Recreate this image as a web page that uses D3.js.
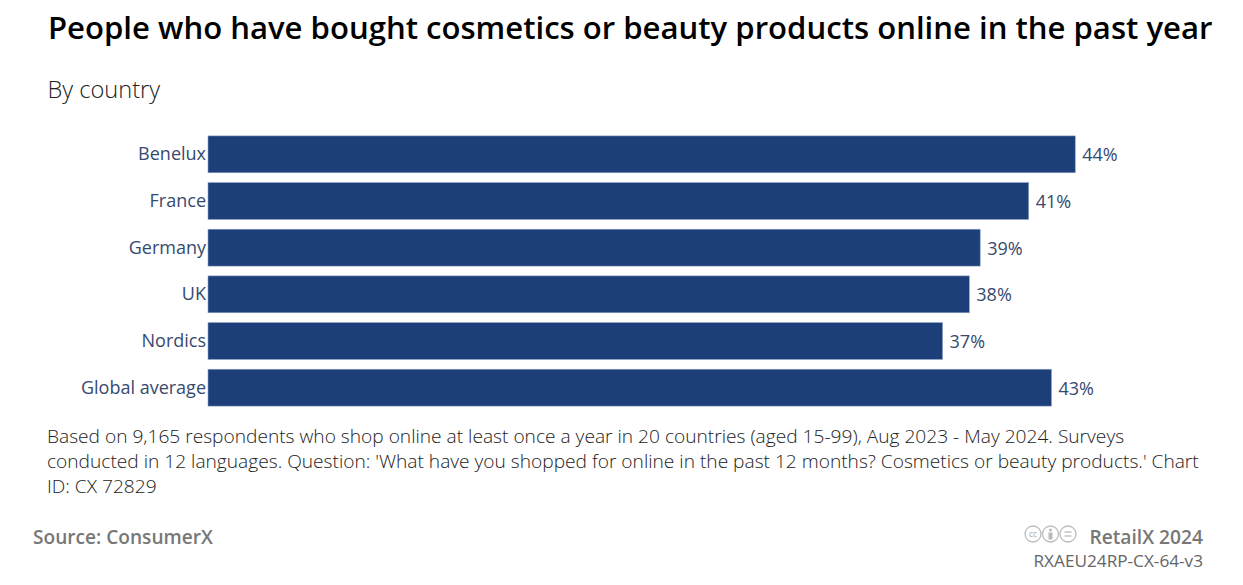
<!DOCTYPE html>
<html>
<head>
<meta charset="utf-8">
<script src="https://cdn.jsdelivr.net/npm/d3@7"></script>
<style>
  html, body { margin: 0; padding: 0; background: #fff; }
  text { font-family: "Open Sans", sans-serif; }
</style>
</head>
<body>
<div id="chart"></div>
<script>
const categories = ['Benelux', 'France', 'Germany', 'UK', 'Nordics', 'Global average']
const shares = [43.8, 41.45, 39.0, 38.45, 37.1, 42.6]
const noteLines = [
  'Based on 9,165 respondents who shop online at least once a year in 20 countries (aged 15-99), Aug 2023 - May 2024. Surveys',
  "conducted in 12 languages. Question: 'What have you shopped for online in the past 12 months? Cosmetics or beauty products.' Chart",
  'ID: CX 72829',
]

const width = 1243
const height = 585
const barColor = '#1c3f79'
const labelColor = '#364a6f'

const svg = d3
  .select('#chart')
  .append('svg')
  .attr('width', width)
  .attr('height', height)
  .style('display', 'block')

svg
  .append('text')
  .attr('x', 48)
  .attr('y', 39)
  .attr('font-size', 31.1)
  .attr('font-weight', 600)
  .attr('fill', '#000')
  .text('People who have bought cosmetics or beauty products online in the past year')

svg
  .append('text')
  .attr('x', 47.5)
  .attr('y', 98)
  .attr('font-size', 23.6)
  .attr('font-weight', 300)
  .attr('fill', '#222')
  .text('By country')

const xScale = d3.scaleLinear().domain([0, 50]).range([208, 1198])

const yScale = d3
  .scaleBand()
  .domain(categories)
  .range([131, 411])
  .paddingInner(0.21)
  .paddingOuter(0.105)

const yAxis = d3.axisLeft(yScale).tickSize(0).tickPadding(2)

const axisGroup = svg
  .append('g')
  .attr('transform', 'translate(208, 0.4)')
  .call(yAxis)

axisGroup.select('.domain').remove()
axisGroup
  .selectAll('text')
  .attr('font-size', 18)
  .attr('fill', labelColor)
  .style('font-family', '"Open Sans", sans-serif')

svg
  .append('g')
  .selectAll('rect')
  .data(shares)
  .join('rect')
  .attr('x', xScale(0))
  .attr('y', (_, i) => yScale(categories[i]))
  .attr('width', d => xScale(d) - xScale(0))
  .attr('height', yScale.bandwidth())
  .attr('fill', barColor)
  .attr('stroke', '#8fa3c6')
  .attr('stroke-width', 0.6)

svg
  .append('g')
  .selectAll('text')
  .data(shares)
  .join('text')
  .attr('x', d => xScale(d) + 7)
  .attr('y', (_, i) => yScale(categories[i]) + yScale.bandwidth() / 2)
  .attr('dy', '0.38em')
  .attr('font-size', 18)
  .attr('fill', labelColor)
  .text(d => `${Math.round(d)}%`)

svg
  .append('g')
  .selectAll('text')
  .data(noteLines)
  .join('text')
  .attr('x', 47)
  .attr('y', (_, i) => 443 + i * 25)
  .attr('font-size', 19.15)
  .attr('font-weight', 300)
  .attr('fill', '#222')
  .text(d => d)

svg
  .append('text')
  .attr('x', 33)
  .attr('y', 544)
  .attr('font-size', 19.1)
  .attr('font-weight', 600)
  .attr('fill', '#777')
  .text('Source: ConsumerX')

svg
  .append('text')
  .attr('x', 1203)
  .attr('y', 544)
  .attr('text-anchor', 'end')
  .attr('font-size', 19.2)
  .attr('font-weight', 600)
  .attr('fill', '#777')
  .text('RetailX 2024')

svg
  .append('text')
  .attr('x', 1203)
  .attr('y', 567)
  .attr('text-anchor', 'end')
  .attr('font-size', 17.2)
  .attr('fill', '#666')
  .text('RXAEU24RP-CX-64-v3')

// licence badges
const badgeGroup = svg.append('g').attr('fill', 'none').attr('stroke', '#bbb').attr('stroke-width', 1.3)

badgeGroup.selectAll('circle').data(['cc', 'by', 'nd']).join('circle')
  .attr('cx', (_, i) => 1033 + i * 17.5)
  .attr('cy', 534)
  .attr('r', 8)

svg
  .append('text')
  .attr('x', 1033)
  .attr('y', 537)
  .attr('text-anchor', 'middle')
  .attr('font-size', 8)
  .attr('font-weight', 600)
  .attr('fill', '#bbb')
  .text('cc')

svg
  .append('circle')
  .attr('cx', 1050.5)
  .attr('cy', 530)
  .attr('r', 1.6)
  .attr('fill', '#bbb')

svg
  .append('rect')
  .attr('x', 1048.5)
  .attr('y', 532.5)
  .attr('width', 4)
  .attr('height', 7)
  .attr('fill', '#bbb')

badgeGroup.append('line').attr('x1', 1064.5).attr('x2', 1071.5).attr('y1', 532).attr('y2', 532)
badgeGroup.append('line').attr('x1', 1064.5).attr('x2', 1071.5).attr('y1', 536).attr('y2', 536)
</script>
</body>
</html>
